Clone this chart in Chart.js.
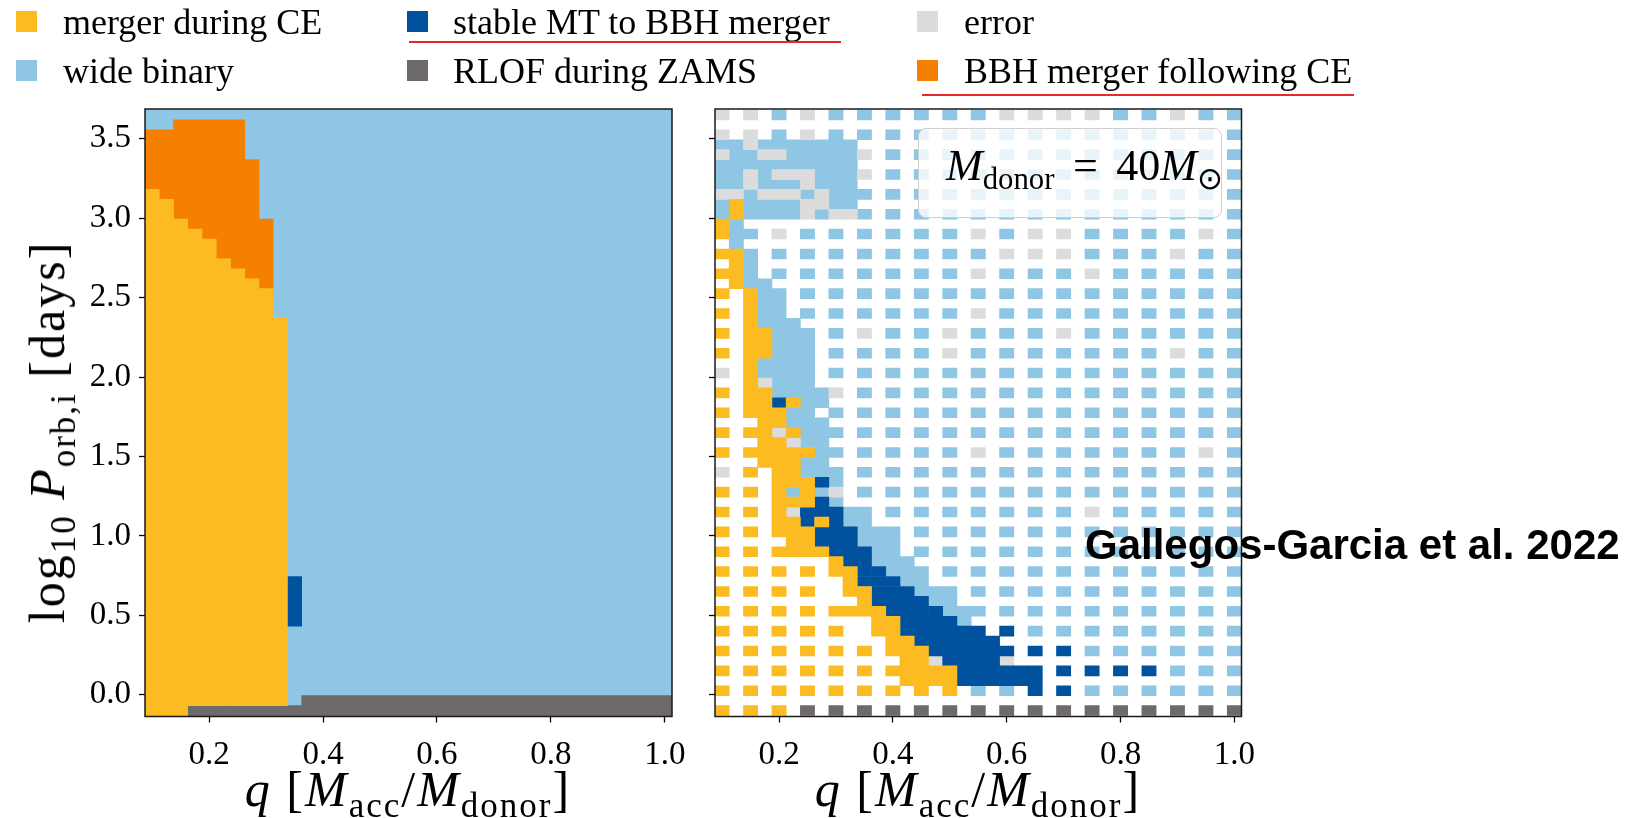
<!DOCTYPE html>
<html lang="en">
<head>
<meta charset="UTF-8">
<title>Binary outcomes, M_donor = 40 Msun</title>
<style>
  html, body { margin: 0; padding: 0; background: #fff; }
  body { position: relative; width: 1643px; height: 818px; overflow: hidden; font-family: 'Liberation Serif', serif; color: #000; }
  canvas { position: absolute; top: 0; }
  .t { position: absolute; white-space: nowrap; line-height: 1; }
  .sub { font-size: 70%; position: relative; top: 0.3em; }
  .key { position: absolute; width: 21px; height: 21px; }
  .redline { position: absolute; height: 2px; background: #e8262d; }
  #box { position: absolute; left: 918px; top: 128px; width: 304px; height: 90px; box-sizing: border-box;
         border: 1.5px solid #cfcfcf; border-radius: 8px; background: rgba(255,255,255,0.8); }
  .axt { font-size: 50px; letter-spacing: 2px; }
  .eq { margin: 0 0.42em; }
</style>
</head>
<body>
<canvas id="leftPanel" width="690" height="818" style="left:0"></canvas>
<canvas id="rightPanel" width="953" height="818" style="left:690px"></canvas>
<div id="legend"></div>
<div class="redline" style="left:409px; top:41px; width:432px"></div>
<div class="redline" style="left:922px; top:94px; width:432px"></div>
<div id="box"></div>
<div class="t" style="left:946px; top:144px; font-size:44px"><i>M</i><span class="sub">donor</span><span class="eq">=</span>40<i>M</i><span class="sub">&#8857;</span></div>
<div class="t" style="left:1085px; top:521px; font: bold 42px 'Liberation Sans', sans-serif">Gallegos-Garcia et al. 2022</div>
<div class="t axt" style="left:408px; top:764px; transform: translateX(-50%)"><i>q</i> [<i>M</i><span class="sub">acc</span>/<i>M</i><span class="sub">donor</span>]</div>
<div class="t axt" style="left:978px; top:764px; transform: translateX(-50%)"><i>q</i> [<i>M</i><span class="sub">acc</span>/<i>M</i><span class="sub">donor</span>]</div>
<div class="t axt" style="left:47px; top:432px; transform: translate(-50%, -50%) rotate(-90deg)">log<span class="sub">10</span> <i>P</i><span class="sub">orb,i</span> [days]</div>

<script src="https://cdn.jsdelivr.net/npm/chart.js@4.4.1/dist/chart.umd.min.js"></script>
<script>
// grid of mass ratios and initial orbital periods
const Q = [0.1, 0.125, 0.15, 0.175, 0.2, 0.225, 0.25, 0.275, 0.3, 0.325, 0.35, 0.375, 0.4, 0.425,
  0.45, 0.475, 0.5, 0.525, 0.55, 0.575, 0.6, 0.625, 0.65, 0.675, 0.7, 0.725, 0.75, 0.775, 0.8,
  0.825, 0.85, 0.875, 0.9, 0.925, 0.95, 0.975, 1.0];
const LOGP = [-0.1, -0.0375, 0.025, 0.0875, 0.15, 0.2125, 0.275, 0.3375, 0.4, 0.4625, 0.525, 0.5875,
  0.65, 0.7125, 0.775, 0.8375, 0.9, 0.9625, 1.025, 1.0875, 1.15, 1.2125, 1.275, 1.3375, 1.4, 1.4625,
  1.525, 1.5875, 1.65, 1.7125, 1.775, 1.8375, 1.9, 1.9625, 2.025, 2.0875, 2.15, 2.2125, 2.275, 2.3375,
  2.4, 2.4625, 2.525, 2.5875, 2.65, 2.7125, 2.775, 2.8375, 2.9, 2.9625, 3.025, 3.0875, 3.15, 3.2125,
  3.275, 3.3375, 3.4, 3.4625, 3.525, 3.5875, 3.65];
const CELL_H = 0.0625;

const Q_RANGE = [0.0875, 1.0125];
const LOGP_RANGE = [-0.1375, 3.6875];
const X_TICKS = [0.2, 0.4, 0.6, 0.8, 1.0];
const Y_TICKS = [0, 0.5, 1, 1.5, 2, 2.5, 3, 3.5];

const CLASS_CODES = ['Y', 'S', 'E', 'W', 'R', 'O'];
const CLASS_LABELS = ['merger during CE', 'stable MT to BBH merger', 'error',
  'wide binary', 'RLOF during ZAMS', 'BBH merger following CE'];
const CLASS_COLORS = ['#fdbb22', '#00529e', '#dcdcdc', '#8ec6e4', '#6e6a6b', '#f58000'];

// left panel: filled map, per q column (top edges in log P)
const LEFT_RLOF_TOP = [null, null, null, -0.06875, -0.06875, -0.06875, -0.06875, -0.06875, -0.06875,
  -0.06875, -0.06875, -0.00625, -0.00625, -0.00625, -0.00625, -0.00625, -0.00625, -0.00625, -0.00625,
  -0.00625, -0.00625, -0.00625, -0.00625, -0.00625, -0.00625, -0.00625, -0.00625, -0.00625, -0.00625,
  -0.00625, -0.00625, -0.00625, -0.00625, -0.00625, -0.00625, -0.00625, -0.00625];
const LEFT_CE_TOP = [3.18125, 3.11875, 2.99375, 2.93125, 2.86875, 2.74375, 2.68125, 2.61875, 2.55625, 2.36875];
const LEFT_BBH_CE_TOP = [3.55625, 3.55625, 3.61875, 3.61875, 3.61875, 3.61875, 3.61875, 3.36875, 2.99375];
const LEFT_STABLE_Q = [0.35];
const LEFT_STABLE_SPAN = [[0.43125, 0.74375]];

// right panel: one string per log P row (top row first), one character per q column
const RIGHT_GRID = [
  'E.E.W.E.W.W.W.W.W.W.E.E.E.E.W.W.E.W.W',
  '',
  'E.E.W.E.W.W.W.W.W.W.W.W.W.W.W.W.W.W.W',
  'WWEWWWWWWW',
  'EWWEEWWWWWE.W.W.W.W.W.W.W.W.W.W.W.W.W',
  'WWWWWWWWWW',
  'WWEWEEEWWWE.W.W.W.W.W.W.W.W.W.W.W.W.W',
  'WWEWWWEWWW',
  'EEWEEEWEWWW.W.W.W.W.W.W.W.W.W.W.W.W.W',
  'WYWWWWEEWW',
  'WYWWWWEWEEW.W.W.W.W.W.W.W.W.W.W.W.W.W',
  'YW',
  'YWW.E.W.W.W.W.W.W.E.W.E.E.W.W.W.W.E.W',
  '.W',
  'YYW.W.W.W.W.W.W.W.W.E.E.E.W.W.W.E.W.W',
  '.YW',
  'YYW.W.W.W.W.W.W.W.E.W.W.W.E.W.W.W.W.W',
  '.YWW',
  'Y.YWW.W.W.W.W.W.W.W.W.W.W.W.W.W.W.W.W',
  '..YWW',
  'Y.YWW.W.W.W.W.W.W.E.W.W.W.W.W.W.W.W.W',
  '..YWWW',
  'Y.YYWWW.W.E.W.W.E.W.W.W.E.W.W.W.W.W.W',
  '..YYWWW',
  'Y.YYWWW.W.W.W.W.E.W.W.W.W.W.W.W.E.W.W',
  '..YWWWW',
  'E.YWWWW.W.W.W.W.W.W.W.W.W.W.W.W.W.W.W',
  '..YEWWW',
  'Y.YYWWWWE.W.W.W.W.W.W.W.W.W.W.W.W.W.W',
  '..YYSYWW',
  'Y.YYYWW.W.W.W.W.W.W.W.W.W.W.W.W.W.W.W',
  '...YYWWW',
  'Y.YYEYWWW.W.W.W.W.W.W.W.W.W.W.W.W.W.W',
  '...YYEWW',
  'Y.YYYYYWW.W.W.W.W.E.W.W.W.W.W.W.W.E.W',
  '...YYYWW',
  'E.Y.YYWWW.W.W.W.W.W.W.W.W.W.W.W.W.W.W',
  '....YYYSW',
  'Y.Y.YWYWE.W.W.W.W.W.W.W.W.W.W.W.W.W.W',
  '....YYYSW',
  'Y.Y.YESSSWW.W.W.W.W.W.W.W.E.W.W.W.W.W',
  '....YYSYSWW',
  'Y.Y.YYYSSSWWW.W.W.W.W.W.W.W.W.W.W.W.W',
  '.....YYSSSWWW',
  'Y.Y.YYYYSSSWW.W.W.W.W.W.W.W.W.W.W.W.W',
  '........YSSWWW',
  'Y.Y.Y.Y.YYSSWWW.W.W.W.W.W.W.W.W.W.W.W',
  '.........YSSSWW',
  'Y.Y.Y.Y..YYSSSWWW.W.W.W.W.W.W.W.W.W.W',
  '..........YSSSSWW',
  'Y.Y.Y.Y.YYYYSSSSWWW.W.W.W.W.W.W.W.W.W',
  '...........YYSSSSW',
  'Y.Y.Y.Y.Y..YYSSSSSS.S.W.W.W.W.W.W.W.W',
  '............YYSSSSSS',
  'Y.Y.Y.Y.Y.Y.YYYSSSSSS.S.S.W.W.W.W.W.W',
  '.............YYESSSSE',
  'Y.Y.Y.Y.Y.Y.YYYYYSSSSSS.S.S.S.S.W.W.W',
  '.............YYYYSSSSSS',
  'Y.Y.Y.Y.Y.Y.Y.Y.Y.W.W.S.S.W.W.W.W.W.W',
  '',
  'Y.Y.Y.R.R.R.R.R.R.R.R.R.R.R.R.R.R.R.R'
];

// ---- build cells ----
function emptyCells() { const c = {}; CLASS_CODES.forEach(k => { c[k] = []; }); return c; }

const leftCells = emptyCells();
Q.forEach((q, i) => {
  leftCells.W.push({ x: q, y: [LOGP_RANGE[0], LOGP_RANGE[1]] });
  const rt = LEFT_RLOF_TOP[i];
  if (rt !== null) leftCells.R.push({ x: q, y: [LOGP_RANGE[0], rt] });
  if (i < LEFT_CE_TOP.length) leftCells.Y.push({ x: q, y: [rt === null ? LOGP_RANGE[0] : rt, LEFT_CE_TOP[i]] });
  if (i < LEFT_BBH_CE_TOP.length) leftCells.O.push({ x: q, y: [LEFT_CE_TOP[i], LEFT_BBH_CE_TOP[i]] });
});
LEFT_STABLE_Q.forEach((q, k) => leftCells.S.push({ x: q, y: LEFT_STABLE_SPAN[k] }));

const rightCells = emptyCells();
RIGHT_GRID.forEach((row, r) => {
  const p = LOGP[LOGP.length - 1 - r];
  row.padEnd(Q.length, '.').split('').forEach((c, i) => {
    if (c !== '.') rightCells[c].push({ x: Q[i], y: [p - CELL_H / 2, p + CELL_H / 2] });
  });
});

// ---- charts ----
const TICK_FONT = { family: "'Liberation Serif', serif", size: 33 };
const GRID = { drawOnChartArea: false, offset: false, drawTicks: true, tickLength: 6, tickWidth: 1.3, tickColor: '#000' };

const framePlugin = {
  id: 'frame',
  afterDatasetsDraw(chart) {
    const { ctx, chartArea: a } = chart;
    ctx.save();
    ctx.strokeStyle = '#1a1a1a';
    ctx.lineWidth = 1.5;
    ctx.strokeRect(a.left, a.top, a.right - a.left, a.bottom - a.top);
    ctx.restore();
  }
};

function panel(id, cells, showYLabels, yWidth, padRight) {
  return new Chart(document.getElementById(id), {
    type: 'bar',
    data: {
      datasets: CLASS_CODES.map((code, k) => ({
        label: CLASS_LABELS[k],
        data: cells[code],
        backgroundColor: CLASS_COLORS[k],
        borderWidth: 0,
        grouped: false,
        barPercentage: 1,
        categoryPercentage: 1,
        order: code === 'W' ? 10 : k
      }))
    },
    options: {
      responsive: false,
      animation: false,
      devicePixelRatio: 1,
      events: [],
      layout: { padding: { top: 109, right: padRight, left: 0, bottom: 0 } },
      plugins: { legend: { display: false }, tooltip: { enabled: false } },
      scales: {
        x: {
          type: 'linear', min: Q_RANGE[0], max: Q_RANGE[1], offset: false,
          afterBuildTicks: s => { s.ticks = X_TICKS.map(v => ({ value: v })); },
          afterFit: s => { s.height = 101.5; s.paddingLeft = 0; s.paddingRight = 0; },
          grid: GRID,
          border: { display: false },
          ticks: { font: TICK_FONT, color: '#000', padding: 13, maxRotation: 0, autoSkip: false,
                   callback: v => v.toFixed(1) }
        },
        y: {
          type: 'linear', min: LOGP_RANGE[0], max: LOGP_RANGE[1], beginAtZero: false,
          afterBuildTicks: s => { s.ticks = Y_TICKS.map(v => ({ value: v })); },
          afterFit: s => { s.width = yWidth; s.paddingTop = 0; s.paddingBottom = 0; },
          grid: GRID,
          border: { display: false },
          ticks: { font: TICK_FONT, color: '#000', padding: 8, autoSkip: false,
                   callback: v => showYLabels ? v.toFixed(1) : '' }
        }
      }
    },
    plugins: [framePlugin]
  });
}

panel('leftPanel', leftCells, true, 145, 18);
panel('rightPanel', rightCells, false, 25, 401.5);

// ---- legend (3 columns x 2 rows) ----
const LEG_KEY_X = [16, 407, 917];
const LEG_TEXT_X = [63, 453, 964];
const LEG_KEY_Y = [11, 60];
const LEG_TEXT_TOP = [4, 53];
const legend = document.getElementById('legend');
CLASS_LABELS.forEach((label, k) => {
  const col = k % 3, row = Math.floor(k / 3);
  const key = document.createElement('div');
  key.className = 'key';
  key.style.left = LEG_KEY_X[col] + 'px';
  key.style.top = LEG_KEY_Y[row] + 'px';
  key.style.background = CLASS_COLORS[k];
  legend.appendChild(key);
  const txt = document.createElement('div');
  txt.className = 't';
  txt.style.left = LEG_TEXT_X[col] + 'px';
  txt.style.top = LEG_TEXT_TOP[row] + 'px';
  txt.style.fontSize = '36px';
  txt.textContent = label;
  legend.appendChild(txt);
});
</script>
</body>
</html>
